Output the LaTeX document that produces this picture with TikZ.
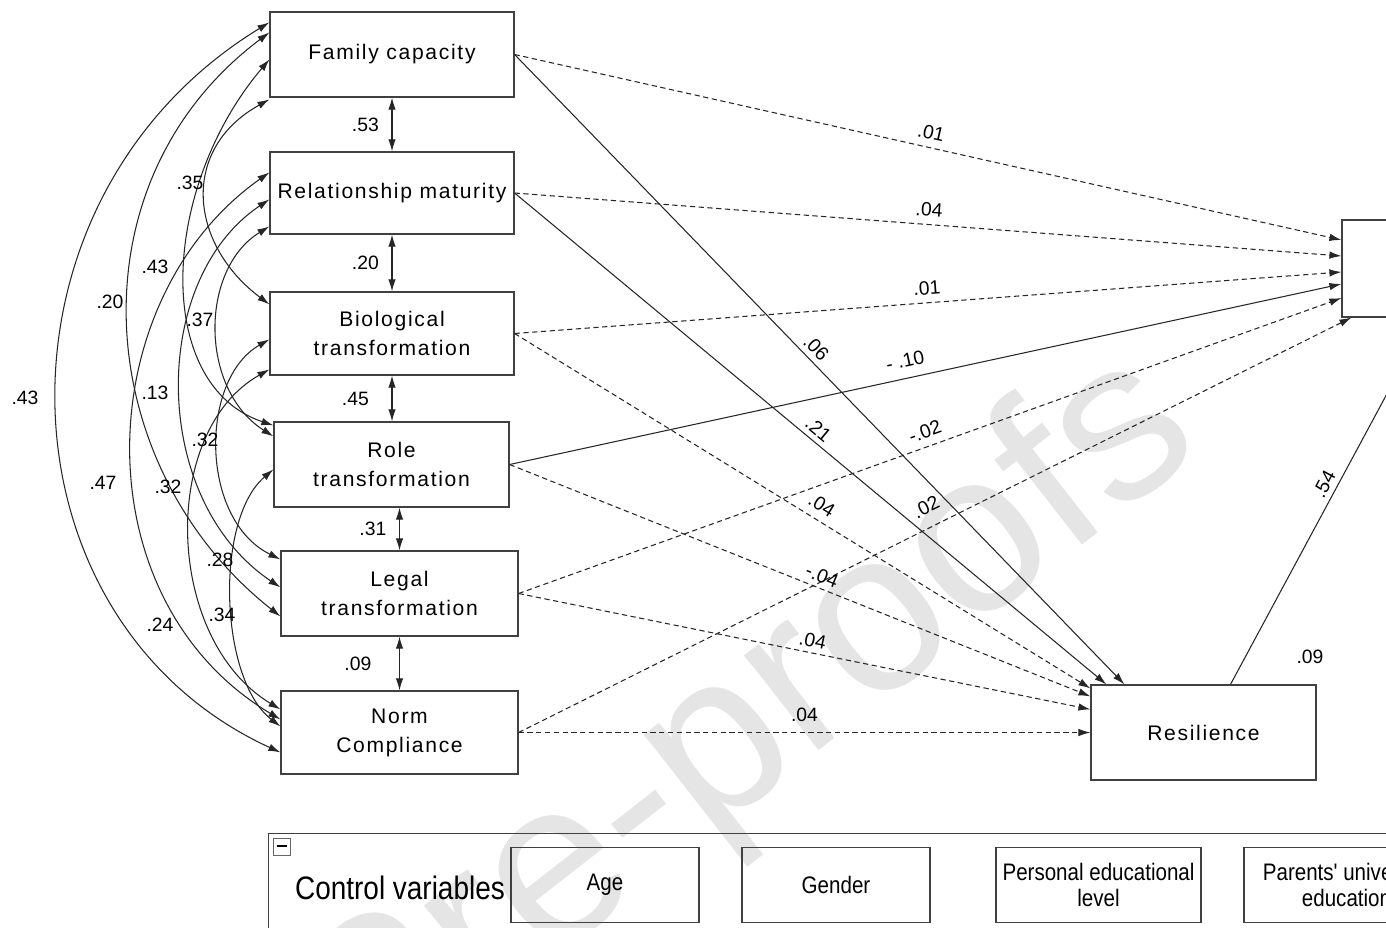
\documentclass[tikz,border=0pt]{standalone}
\usepackage{fontspec}
\setmainfont{Liberation Sans}
\newfontfamily\boxfont[LetterSpace=8]{Liberation Sans}
\newfontfamily\narrowfont[FakeStretch=0.86]{Liberation Sans}
\usetikzlibrary{arrows.meta,calc}
\tikzset{
    varbox/.style={draw=black!75, line width=0.7pt, align=center, inner sep=0pt,
        font=\boxfont\fontsize{12}{16.5}\selectfont},
    ctrlbox/.style={draw=black!75, line width=0.7pt, align=center, inner sep=0pt,
        minimum width=3.76cm, minimum height=1.5cm,
        font=\narrowfont\fontsize{13.6}{14.5}\selectfont},
    effect/.style={draw=black!85, line width=0.6pt, -{Latex[length=2.4mm,width=1.5mm]}},
    effectdash/.style={effect, dash pattern=on 3pt off 2pt},
    cov/.style={draw=black!85, line width=0.6pt,
        {Latex[length=2.4mm,width=1.5mm]}-{Latex[length=2.4mm,width=1.5mm]}},
    coef/.style={font=\fontsize{11}{13}\selectfont, inner sep=1.5pt},
}

\begin{document}
\begin{tikzpicture}[x=0.02cm, y=-0.02cm]
		\clip (0,0) rectangle (1386,927) ;
		% Watermark
		\node[rotate=38, text=black!10, font=\fontsize{130}{130}\selectfont] (watermark) at (750,730) {Pre-proofs};
		% The six dimensions
		\node[varbox, minimum width=4.88cm, minimum height=1.7cm] (fc) at (392,54.5) {Family capacity};
		\node[varbox, minimum width=4.88cm, minimum height=1.64cm] (rm) at (392,193) {Relationship maturity};
		\node[varbox, minimum width=4.88cm, minimum height=1.66cm] (bt) at (392,333.5) {Biological\\transformation};
		\node[varbox, minimum width=4.7cm, minimum height=1.7cm] (rt) at (391.5,464.5) {Role\\transformation};
		\node[varbox, minimum width=4.74cm, minimum height=1.7cm] (lt) at (399.5,593.5) {Legal\\transformation};
		\node[varbox, minimum width=4.74cm, minimum height=1.66cm] (nc) at (399.5,732.5) {Norm\\Compliance};
		% Resilience and the box cut off on the right
		\node[varbox, minimum width=4.5cm, minimum height=1.9cm] (res) at (1203.5,732.5) {Resilience};
		\node[varbox, minimum width=3.44cm, minimum height=1.94cm] (outbox) at (1428,268.5) {};
		\node[coef] (r2res) at (1310,657) {.09};
		% Correlations between neighbouring boxes
		\draw[cov]  (fc) -- node[coef, left=2mm] (cfcrm) {.53} (rm) ;
		\draw[cov]  (rm) -- node[coef, left=2mm] (crmbt) {.20} (bt) ;
		\draw[cov]  (bt.south) -- node[coef, left=4mm] (cbtrt) {.45} (bt.south |- rt.north) ;
		\draw[cov]  (lt.north |- rt.south) -- node[coef, left=2mm] (crtlt) {.31} (lt.north) ;
		\draw[cov]  (lt) -- node[coef, left=5mm] (cltnc) {.09} (nc) ;
		% The arcs on the left
		\draw[cov]  ($(fc.north west)+(0,11)$) .. controls +(-290,177) and +(-290,-133) .. ($(nc.north west)+(0,62)$) ;
		\draw[cov]  ($(fc.north west)+(0,21)$) .. controls +(-200,150) and +(-190,-150) .. ($(lt.north west)+(0,66)$) ;
		\draw[cov]  ($(fc.north west)+(0,48)$) .. controls +(-110,130) and +(-120,-40) .. ($(rt.north west)+(0,4)$) ;
		\draw[cov]  ($(fc.north west)+(0,88)$) .. controls +(-90,50) and +(-80,-60) .. ($(bt.north west)+(0,13)$) ;
		\draw[cov]  ($(rm.north west)+(0,21)$) .. controls +(-180,127) and +(-201,-120) .. ($(nc.north west)+(0,29)$) ;
		\draw[cov]  ($(rm.north west)+(0,48)$) .. controls +(-120,80) and +(-131,-88) .. ($(lt.north west)+(0,37)$) ;
		\draw[cov]  ($(rm.north west)+(0,75)$) .. controls +(-70,43) and +(-74,-47) .. ($(rt.north west)+(0,15)$) ;
		\draw[cov]  ($(bt.north west)+(0,48)$) .. controls +(-70,40) and +(-81,-40) .. ($(lt.north west)+(0,9)$) ;
		\draw[cov]  ($(bt.north west)+(0,78)$) .. controls +(-110,62) and +(-116,-70) .. ($(nc.north west)+(0,19)$) ;
		\draw[cov]  ($(rt.north west)+(0,48)$) .. controls +(-59,50) and +(-61,-47) .. ($(nc.north west)+(0,36)$) ;
		% Labels of the arcs
		\node[coef] (k1) at (190,183) {.35};
		\node[coef] (k2) at (155,267) {.43};
		\node[coef] (k3) at (110,302) {.20};
		\node[coef] (k4) at (200,320) {.37};
		\node[coef] (k5) at (25,398) {.43};
		\node[coef] (k6) at (155,393) {.13};
		\node[coef] (k7) at (205,440) {.32};
		\node[coef] (k8) at (103,483) {.47};
		\node[coef] (k9) at (168,487) {.32};
		\node[coef] (k10) at (220,560) {.28};
		\node[coef] (k11) at (222,615) {.34};
		\node[coef] (k12) at (160,625) {.24};
		% Paths to the box on the right
		\draw[effectdash]  (fc.east) -- node[coef, sloped, above=1mm] (pfc) {.01} ($(outbox.west)+(0,-28.5)$) ;
		\draw[effectdash]  (rm.east) -- node[coef, sloped, above=1mm] (prm) {.04} ($(outbox.west)+(0,-12.5)$) ;
		\draw[effectdash]  (bt.east) -- node[coef, sloped, above=1mm] (pbt) {.01} ($(outbox.west)+(0,3.5)$) ;
		\draw[effect]  (rt.east) -- node[coef, sloped, above=1.5mm, pos=.48] (prt) {- .10} ($(outbox.west)+(0,15.5)$) ;
		\draw[effectdash]  (lt.east) -- node[coef, sloped, above=1mm] (plt) {-.02} ($(outbox.west)+(0,29.5)$) ;
		\draw[effectdash]  (nc.east) -- node[coef, sloped, above=2mm] (pnc) {.02} ($(outbox.south west)+(10,0)$) ;
		% Paths to Resilience
		\draw[effect]  (fc.east) -- node[coef, sloped, above=0.5mm, pos=.48] (qfc) {.06} ($(res.north west)+(34,0)$) ;
		\draw[effect]  (rm.east) -- node[coef, sloped, above=0.5mm, pos=.5] (qrm) {.21} ($(res.north west)+(16,0)$) ;
		\draw[effectdash]  (bt.east) -- node[coef, sloped, above=1mm, pos=.52] (qbt) {.04} ($(res.north west)+(0,4)$) ;
		\draw[effectdash]  (rt.east) -- node[coef, sloped, above=0.5mm, pos=.53] (qrt) {-.04} ($(res.north west)+(0,12)$) ;
		\draw[effectdash]  (lt.east) -- node[coef, sloped, above=0.5mm, pos=.51] (qlt) {.04} ($(res.north west)+(0,25)$) ;
		\draw[effectdash]  (nc.east) -- node[coef, above=1.5mm, pos=.5] (qnc) {.04} (res.west) ;
		% Resilience to the box on the right
		\draw[effect]  ($(res.north)+(27,0)$) -- node[coef, sloped, above=0.5mm, pos=.53] (qres) {.54} (outbox.south) ;
		% Control variables
		\node[draw=black!75, line width=0.7pt, anchor=north west, minimum width=24cm, minimum height=3cm] (ctrl) at (268,833) {};
		\node[draw=black!60, line width=0.5pt, minimum size=0.34cm, inner sep=0pt] (collapse) at (281.5,847) {\rule[0.2ex]{0.2cm}{0.7pt}};
		\node[font=\narrowfont\fontsize{18.5}{18.5}\selectfont] (ctrllabel) at (400,888) {Control variables};
		\node[ctrlbox] (age) at (605,885) {Age};
		\node[ctrlbox] (gender) at (836,885) {Gender};
		\node[ctrlbox, minimum width=4.1cm] (pel) at (1098.5,885) {Personal educational\\level};
		\node[ctrlbox, minimum width=4.1cm] (parents) at (1346.5,885) {Parents' university\\education};
	\end{tikzpicture}
\end{document}
